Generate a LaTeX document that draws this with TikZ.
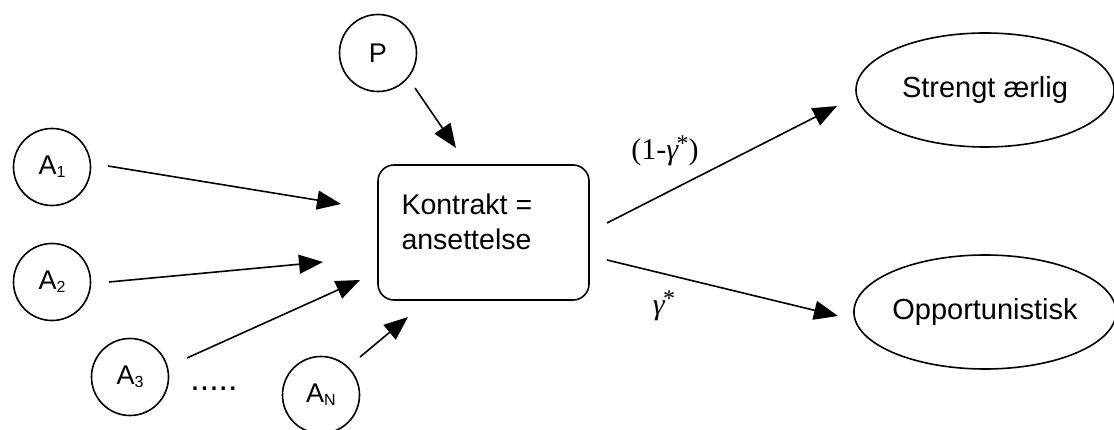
\documentclass[tikz,border=0pt]{standalone}
\usepackage{fontspec}
\setmainfont{Liberation Sans}
\newfontfamily\seriffont{Liberation Serif}
\usetikzlibrary{arrows.meta,shapes.geometric}
\begin{document}
\begin{tikzpicture}[x=1pt,y=-1pt,
  agent/.style={draw,circle,line width=1.6pt,minimum size=77pt,inner sep=0pt,font=\fontsize{27}{29}\selectfont},
  outcome/.style={draw,ellipse,line width=1.6pt,minimum width=258pt,minimum height=114pt,inner sep=0pt,font=\fontsize{29}{32}\selectfont},
  contract/.style={draw,rounded corners=16pt,line width=1.6pt,minimum width=211pt,minimum height=135pt,inner sep=0pt},
  arr/.style={line width=1.6pt,-{Triangle[length=24pt,width=19pt]}},
  lbl/.style={font=\seriffont\fontsize{30}{32}\selectfont}]
\useasboundingbox (0,0) rectangle (1114,430);
\newcommand{\sub}[1]{\raisebox{-0.12em}{\fontsize{16}{16}\selectfont #1}}
\newcommand{\gam}{{\itshape γ}\kern-1.5pt\raisebox{0.28em}{\fontsize{24}{24}\selectfont *}}
% nodes
\node[agent] (P) at (378,53) {P};
\node[agent] (A1) at (52,167) {A\sub{1}};
\node[agent] (A2) at (52,282) {A\sub{2}};
\node[agent] (A3) at (130,377) {A\sub{3}};
\node[agent] (AN) at (321,395) {A\sub{N}};
\node[font=\fontsize{34}{34}\selectfont,anchor=base,inner sep=0pt] (dots) at (214,390) {.....};
\node[contract] (K) at (483.5,232.5) {};
\node[anchor=west,align=left,font=\fontsize{28.5}{35}\selectfont] (Kt) at (398,222) {Kontrakt =\\ansettelse};
\node[outcome] (S) at (985,90) {Strengt ærlig};
\node[outcome] (O) at (985,312) {Opportunistisk};
% arrow end points
\coordinate (p1) at (415,88);   \coordinate (p2) at (456,148);
\coordinate (a1s) at (108,166); \coordinate (a1e) at (341,204);
\coordinate (a2s) at (109,282); \coordinate (a2e) at (323,262);
\coordinate (a3s) at (187,358); \coordinate (a3e) at (360,280);
\coordinate (ans) at (360,357); \coordinate (ane) at (408,317);
\coordinate (us) at (607,223);  \coordinate (ue) at (837,106);
\coordinate (ls) at (607,260);  \coordinate (le) at (838,316);
% connectors
\draw[arr] (p1) -- (p2);
\draw[arr] (a1s) -- (a1e);
\draw[arr] (a2s) -- (a2e);
\draw[arr] (a3s) -- (a3e);
\draw[arr] (ans) -- (ane);
\draw[arr] (us) -- (ue);
\draw[arr] (ls) -- (le);
\node[lbl] (l1) at (665,151) {(1-\gam)};
\node[lbl] (l2) at (664,306) {\gam};
\end{tikzpicture}
\end{document}
